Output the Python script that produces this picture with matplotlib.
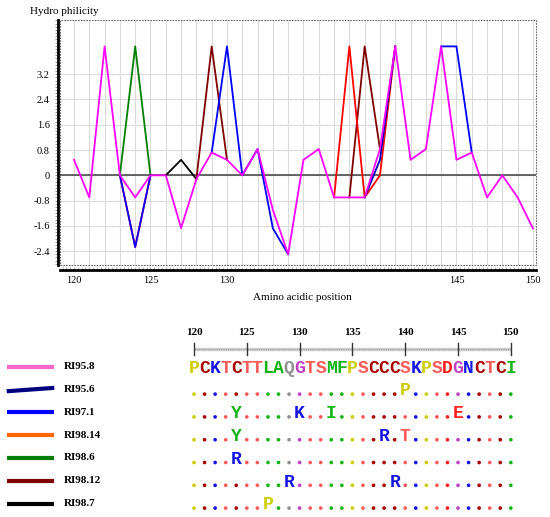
import matplotlib.pyplot as plt
import numpy as np
from matplotlib.patches import Rectangle
from matplotlib.ticker import MultipleLocator
from matplotlib.transforms import blended_transform_factory

plt.rcParams['font.family'] = 'serif'
plt.rcParams['font.serif'] = ['Liberation Serif', 'DejaVu Serif']

# amino acid positions and reference sequence (RI95.8)
positions = np.arange(120, 151)
sequence = "PCKTCTTLAQGTSMFPSCCCSKPSDGNCTCI"

# hydrophilicity per residue
hydro = {"P": 0.49, "C": -0.70, "K": 4.08, "T": 0.0, "L": -1.67, "A": -0.12,
         "Q": 0.72, "G": 0.49, "S": 0.83, "M": -1.10, "F": -2.50, "D": 4.08,
         "N": 0.72, "I": -1.68, "Y": -2.27, "R": 4.08, "E": 4.08}

strains = ["RI95.8", "RI95.6", "RI97.1", "RI98.14", "RI98.6", "RI98.12", "RI98.7"]
mutations = [
    {},
    {140: "P"},
    {124: "Y", 130: "K", 133: "I", 145: "E"},
    {124: "Y", 138: "R", 140: "T"},
    {124: "R"},
    {129: "R", 139: "R"},
    {127: "P"},
]
legend_colors = ["#ff66cc", "#000080", "#0000ff", "#ff6600", "#008000", "#800000", "#000000"]
line_colors = ["#ff00ff", "#0000b0", "#0000ff", "#ff0000", "#008000", "#800000", "#000000"]
draw_order = [6, 5, 4, 3, 2, 1, 0]

res_colors = {"P": "#cccc00", "C": "#a80000", "K": "#1414e6", "T": "#ff5a5a",
              "S": "#ff5a5a", "L": "#14b414", "A": "#14b414", "M": "#14b414",
              "F": "#14b414", "I": "#14b414", "Y": "#14b414", "Q": "#909090",
              "G": "#c040c0", "D": "#ff1e1e", "E": "#ff1e1e", "N": "#1414e6",
              "R": "#1414e6"}

y_ticks = [-2.4, -1.6, -0.8, 0, 0.8, 1.6, 2.4, 3.2]
x_labelled = [120, 125, 130, 145, 150]
ruler_ticks = [120, 125, 130, 135, 140, 145, 150]

fig = plt.figure(figsize=(5.5, 5.17), dpi=100)

# ---- hydrophilicity profile ----
ax = fig.add_axes([0.1091, 0.4874, 0.8649, 0.4739])
for i in draw_order:
    seq = [mutations[i].get(p, sequence[k]) for k, p in enumerate(positions)]
    vals = np.array([hydro[a] for a in seq])
    if mutations[i]:
        # only the stretch around each substitution differs from RI95.8
        near = np.array([any(abs(p - m) <= 1 for m in mutations[i]) for p in positions])
        vals = np.where(near, vals, np.nan)
    ax.plot(positions, vals, color=line_colors[i], lw=1.3, zorder=3)
ax.axhline(0, color='#404040', lw=1.1, zorder=2)

ax.set_xlim(119.085, 150.18)
ax.set_ylim(-2.839, 4.915)
ax.set_yticks(y_ticks)
ax.set_yticklabels(['0' if v == 0 else f'{v:.1f}' for v in y_ticks])
ax.set_xticks(positions)
ax.set_xticklabels([str(p) if p in x_labelled else '' for p in positions])
ax.xaxis.set_minor_locator(MultipleLocator(0.25))
ax.yaxis.set_minor_locator(MultipleLocator(0.1))
ax.grid(which='major', color='#dadada', lw=0.8)
ax.set_axisbelow(True)

for s in ['top', 'right']:
    ax.spines[s].set_visible(False)
ax.spines['left'].set_linewidth(2)
ax.spines['bottom'].set_linewidth(2)
ax.spines['left'].set_position(('outward', 1.4))
ax.spines['bottom'].set_position(('outward', 3.6))
ax.tick_params(axis='y', which='both', direction='out', length=2, width=0.5,
               color='#777777', labelsize=7.5, pad=4)
ax.tick_params(axis='x', which='both', direction='in', length=2.5, width=0.5,
               color='#999999', labelsize=7.5, pad=4)
ax.add_patch(Rectangle((0, 0), 1, 1, transform=ax.transAxes, fill=False,
                       ls=(0, (1.5, 1)), ec='#666666', lw=0.8, clip_on=False))

fig.text(0.0545, 0.977, "Hydro philicity", fontsize=8, va='center', ha='left')
fig.text(0.549, 0.424, "Amino acidic position", fontsize=8, va='center', ha='center')

# ---- alignment panel ----
ax2 = fig.add_axes([0, 0, 1, 207 / 517])
ax2.set_xlim(101.63, 153.71)
ax2.set_ylim(6.33, -2.75)
ax2.axis('off')

# ruler
ax2.plot([120, 150], [-1.03, -1.03], color='#d0d0d0', lw=2.5, solid_capstyle='butt')
ax2.plot([120, 150], [-1.03, -1.03], color='#999999', lw=0.8, ls=(0, (1, 1)))
for t in ruler_ticks:
    ax2.plot([t, t], [-1.32, -0.78], color='#333333', lw=1)
    ax2.text(t, -1.75, str(t), ha='center', va='center', fontsize=8, fontweight='bold')

# reference sequence
for k, p in enumerate(positions):
    ax2.text(p, 0, sequence[k], ha='center', va='baseline', fontsize=13,
             family='Liberation Mono', fontweight='bold', color=res_colors[sequence[k]])

# variant rows
for row in range(1, len(strains)):
    dx, dy, dc = [], [], []
    for k, p in enumerate(positions):
        if p in mutations[row]:
            a = mutations[row][p]
            ax2.text(p, row, a, ha='center', va='baseline', fontsize=13,
                     family='Liberation Mono', fontweight='bold', color=res_colors[a])
        else:
            dx.append(p)
            dy.append(row - 0.06)
            dc.append(res_colors[sequence[k]])
    ax2.scatter(dx, dy, s=7, c=dc, linewidths=0)

# legend
tr = blended_transform_factory(ax2.transAxes, ax2.transData)
for row, name in enumerate(strains):
    yc = row - 0.26
    if name == "RI95.6":
        ys = [yc + 0.075, yc - 0.075]
    else:
        ys = [yc, yc]
    ax2.plot([6.7 / 550, 54.3 / 550], ys, color=legend_colors[row], lw=3,
             solid_capstyle='butt', transform=tr)
    ax2.text(64 / 550, yc, name, transform=tr, ha='left', va='center',
             fontsize=8, fontweight='bold')

plt.savefig("out.png", dpi=100)
